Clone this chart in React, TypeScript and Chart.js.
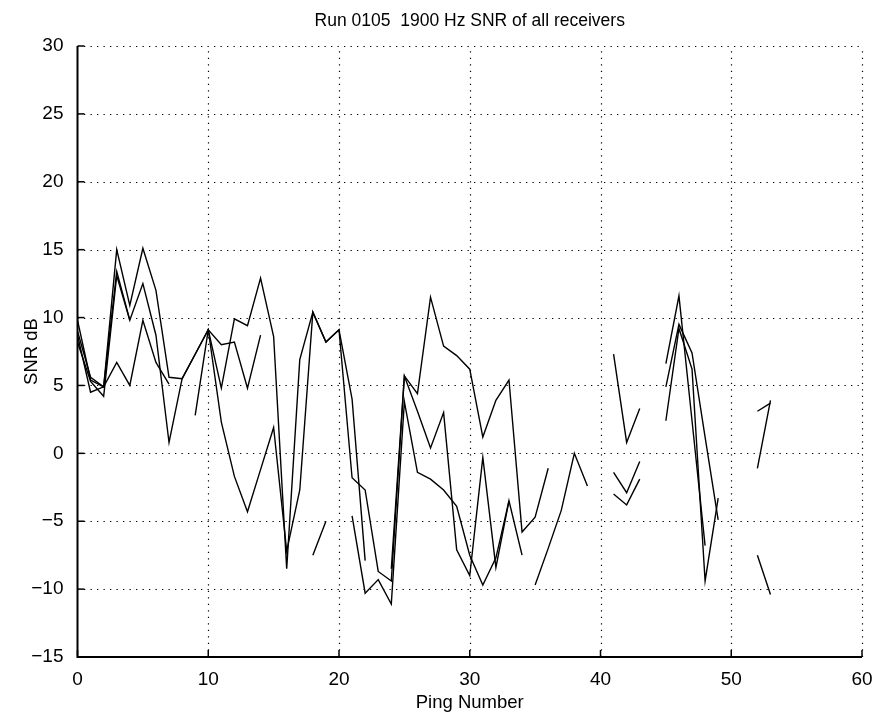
import React, { useEffect, useRef } from "react";
import { Chart, registerables } from "chart.js";

Chart.register(...registerables);

const titleText = "Run 0105  1900 Hz SNR of all receivers";
const xTitle = "Ping Number";
const yTitle = "SNR dB";

const pings = Array.from({ length: 54 }, (_, i) => i);

const xTicks = [0, 10, 20, 30, 40, 50, 60];
const yTicks = [-15, -10, -5, 0, 5, 10, 15, 20, 25, 30];

const N = null;

// receiver 1
const rx1 = [
  9.8, 5.4, 4.9, 15.0, 10.9, 15.1, 12.0, 5.6, 5.5, 7.3,
  9.1, 4.8, 9.9, 9.4, 12.9, 8.6, -8.5, 6.9, 10.4, 8.2,
  9.1, 4.0, -7.9, N, N, N, N, N, N, N,
  N, N, N, N, N, N, N, N, N, N,
  N, N, N, N, N, 6.6, 11.6, 2.4, -6.8, N,
  N, N, N, N,
];

// receiver 2
const rx2 = [
  8.7, 4.5, 4.9, 13.4, 9.8, 12.5, 8.7, 0.8, 5.5, 7.3,
  9.1, 2.3, -1.7, -4.3, -1.2, 1.9, -7.2, -2.7, 10.4, 8.2,
  9.1, -1.8, -2.7, -8.7, -9.4, 5.7, 4.4, 11.5, 7.9, 7.2,
  6.2, 1.2, 3.9, 5.4, -5.8, -4.7, -1.1, N, N, N,
  N, 7.3, 0.8, 3.3, N, 4.9, 9.5, 7.4, 1.2, -4.9,
  N, N, 3.1, 3.7,
];

// receiver 3
const rx3 = [
  N, N, N, N, N, N, N, N, N, N,
  N, N, N, N, N, N, N, N, -7.5, -5.0,
  N, -4.6, -10.3, -9.3, -11.1, 3.8, -1.4, -1.9, -2.7, -3.9,
  -7.5, -9.7, -7.7, -3.5, N, -9.7, -7.0, -4.2, 0.0, -2.4,
  N, -1.4, -2.9, -0.6, N, 2.4, 9.2, 6.2, -9.4, -3.3,
  N, N, -1.1, 3.9,
];

// receiver 4
const rx4 = [
  8.2, 5.3, 4.2, 13.1, 9.8, N, N, N, N, 2.8,
  9.1, 8.0, 8.2, 4.8, 8.7, N, N, N, N, N,
  N, N, N, N, -8.5, 5.7, 3.1, 0.4, 3.0, -7.1,
  -9.0, -0.3, -8.4, -3.5, -7.5, N, N, N, N, N,
  N, -3.0, -3.8, -1.9, N, N, N, N, N, N,
  N, N, -7.5, -10.4,
];

// receiver 5
const rx5 = [
  9.0, 5.6, 4.9, 6.7, 5.0, 9.8, 6.7, 5.1, N, N,
  N, N, N, N, N, N, N, N, N, N,
  N, N, N, N, N, N, N, N, N, N,
  N, N, N, N, N, N, N, N, N, N,
  N, N, N, N, N, N, N, N, N, N,
  N, N, N, N,
];

const series = [rx1, rx2, rx3, rx4, rx5];

const FONT = '"Liberation Sans", Arial, Helvetica, sans-serif';

const W = 882;
const H = 719;

const fmt = (v: number) => (v < 0 ? "\u2212" + Math.abs(v) : String(v));

const framePlugin = {
  id: "matlabFrame",
  beforeDatasetsDraw(chart: any) {
    const { ctx, chartArea: a, scales } = chart;
    const x = scales.x;
    const y = scales.y;
    ctx.save();
    ctx.strokeStyle = "#000";
    ctx.lineWidth = 1.2;
    ctx.setLineDash([1.3, 5.2]);
    for (const v of xTicks) {
      if (v === xTicks[0]) continue;
      const px = Math.round(x.getPixelForValue(v)) + 0.5;
      ctx.beginPath();
      ctx.moveTo(px, a.bottom);
      ctx.lineTo(px, a.top);
      ctx.stroke();
    }
    for (const v of yTicks) {
      if (v === yTicks[0]) continue;
      const py = Math.round(y.getPixelForValue(v)) + 0.5;
      ctx.beginPath();
      ctx.moveTo(a.left, py);
      ctx.lineTo(a.right, py);
      ctx.stroke();
    }
    ctx.restore();
  },
  afterDraw(chart: any) {
    const { ctx, chartArea: a, scales } = chart;
    const x = scales.x;
    const y = scales.y;
    ctx.save();
    ctx.strokeStyle = "#000";
    ctx.setLineDash([]);
    ctx.lineWidth = 2;
    ctx.beginPath();
    ctx.moveTo(a.left, a.top);
    ctx.lineTo(a.left, a.bottom);
    ctx.lineTo(a.right, a.bottom);
    ctx.stroke();
    ctx.lineWidth = 1.5;
    for (const v of xTicks) {
      const px = x.getPixelForValue(v);
      ctx.beginPath();
      ctx.moveTo(px, a.bottom);
      ctx.lineTo(px, a.bottom - 7);
      ctx.stroke();
    }
    for (const v of yTicks) {
      const py = y.getPixelForValue(v);
      ctx.beginPath();
      ctx.moveTo(a.left, py);
      ctx.lineTo(a.left + 7, py);
      ctx.stroke();
    }
    ctx.fillStyle = "#000";
    ctx.textAlign = "center";
    ctx.textBaseline = "middle";
    const cx = (a.left + a.right) / 2;
    ctx.font = `17.5px ${FONT}`;
    ctx.fillText(titleText, cx, 21);
    ctx.font = `18.5px ${FONT}`;
    ctx.fillText(xTitle, cx, 703);
    ctx.translate(32, (a.top + a.bottom) / 2);
    ctx.rotate(-Math.PI / 2);
    ctx.fillText(yTitle, 0, 0);
    ctx.restore();
  },
};

export default function App() {
  const ref = useRef<HTMLCanvasElement | null>(null);

  useEffect(() => {
    if (!ref.current) return;
    const datasets = series.map((s, k) => ({
      label: `Receiver ${k + 1}`,
      data: pings.map((p, i) => ({ x: p, y: s[i] })),
      borderColor: "#000",
      borderWidth: 1.4,
      pointRadius: 0,
      pointHoverRadius: 0,
      fill: false,
      tension: 0,
      spanGaps: false,
    }));
    const chart = new Chart(ref.current, {
      type: "line",
      data: { datasets },
      options: {
        animation: false,
        responsive: false,
        maintainAspectRatio: false,
        events: [],
        layout: { padding: { left: 0, right: 20, top: 46, bottom: 0 } },
        plugins: {
          legend: { display: false },
          title: { display: false },
          tooltip: { enabled: false },
        },
        scales: {
          x: {
            type: "linear",
            min: 0,
            max: 60,
            afterFit: (s: any) => {
              s.height = 62;
            },
            afterBuildTicks: (s: any) => {
              s.ticks = xTicks.map((v) => ({ value: v }));
            },
            grid: { display: false },
            border: { display: false },
            ticks: {
              color: "#000",
              font: { family: FONT, size: 19 },
              padding: 3,
              maxRotation: 0,
              callback: (v: any) => fmt(Number(v)),
            },
          },
          y: {
            type: "linear",
            min: -15,
            max: 30,
            afterFit: (s: any) => {
              s.width = 77.5;
            },
            afterBuildTicks: (s: any) => {
              s.ticks = yTicks.map((v) => ({ value: v }));
            },
            grid: { display: false },
            border: { display: false },
            ticks: {
              color: "#000",
              font: { family: FONT, size: 19 },
              padding: 6,
              callback: (v: any) => fmt(Number(v)),
            },
          },
        },
      },
      plugins: [framePlugin],
    });
    return () => chart.destroy();
  }, []);

  return (
    <div style={{ position: "absolute", left: 0, top: 0, width: W, height: H, background: "#fff" }}>
      <canvas ref={ref} width={W} height={H} style={{ width: W, height: H, display: "block" }} />
    </div>
  );
}
